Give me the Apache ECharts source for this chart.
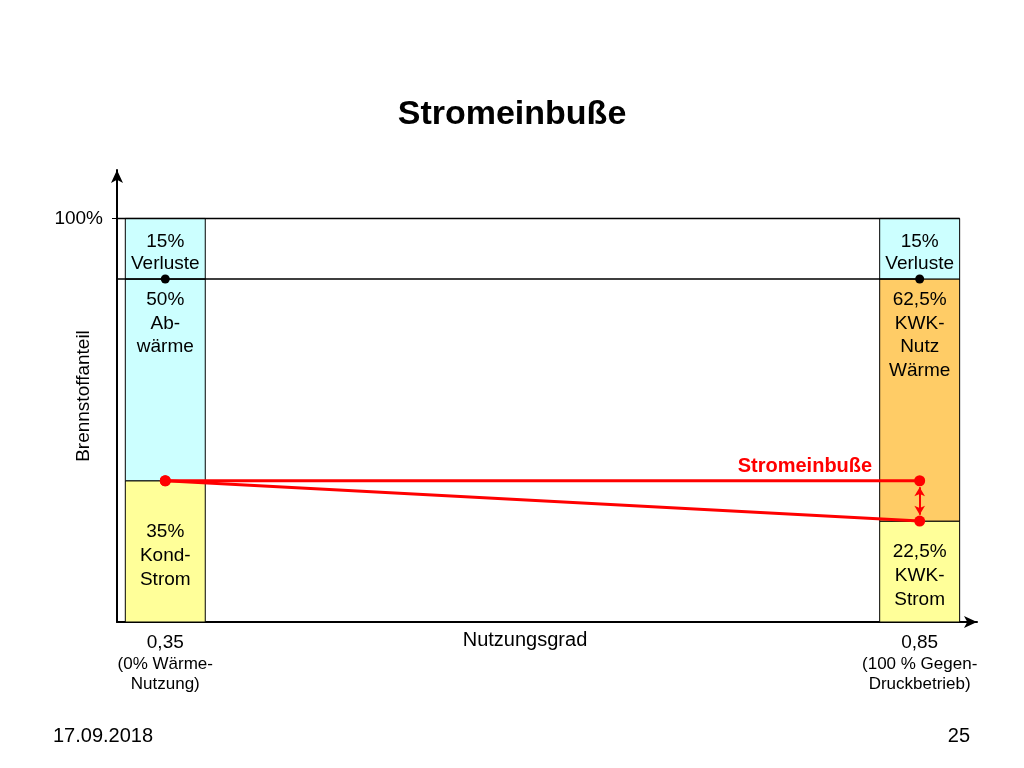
<!DOCTYPE html>
<html>
<head>
<meta charset="utf-8">
<script src="https://cdn.jsdelivr.net/npm/echarts@6/dist/echarts.min.js"></script>
<style>
html, body { margin: 0; padding: 0; background: #fff; }
#chart { width: 1024px; height: 768px; }
</style>
</head>
<body>
<div id="chart"></div>
<script>
// Nutzungsgrad der beiden Säulen
var barX = [0.35, 0.35, 0.35, 0.85, 0.85, 0.85];
// Brennstoffanteil je Abschnitt (von / bis, in %)
var segLow = [0, 35, 85, 0, 25, 85];
var segHigh = [35, 85, 100, 25, 85, 100];
var segText = ['35%\nKond-\nStrom', '50%\nAb-\nwärme', '15%\nVerluste',
               '22,5%\nKWK-\nStrom', '62,5%\nKWK-\nNutz\nWärme', '15%\nVerluste'];

// Stromanteil: Kondensation -> Gegendruck
var stromKond = [[0.35, 35], [0.85, 35]];
var stromKwk = [[0.35, 35], [0.85, 25]];
// Grenze Verluste
var verlustLinie = 85;

var xTicks = [0.35, 0.85];
var xTickText = ['0,35\n{s|(0% Wärme-}\n{s|Nutzung)}', '0,85\n{s|(100 % Gegen-}\n{s|Druckbetrieb)}'];

var xMin = 0.318, xMax = 0.888;
var barHalf = 0.0265;
var segFill = ['#ffff99', '#ccffff', '#ccffff', '#ffff99', '#ffcc66', '#ccffff'];
var segPos = ['inside', 'insideTop', 'inside', 'inside', 'insideTop', 'inside'];
var segLine = [24, 23.5, 22, 24, 23.5, 22];
var font = 'Liberation Sans, Arial, sans-serif';

var chart = echarts.init(document.getElementById('chart'));

var option = {
    animation: false,
    title: {
        text: 'Stromeinbuße',
        left: 'center',
        top: 93,
        textStyle: { fontFamily: font, fontSize: 34, fontWeight: 'bold', color: '#000' }
    },
    grid: { left: 117, right: 47, top: 170, bottom: 146 },
    xAxis: {
        type: 'value',
        min: xMin,
        max: xMax,
        name: 'Nutzungsgrad',
        nameLocation: 'middle',
        nameGap: 8,
        nameMoveOverlap: false,
        nameTextStyle: { fontFamily: font, fontSize: 20, color: '#000', verticalAlign: 'top', padding: [0, 44, 0, 0] },
        axisLine: { lineStyle: { color: '#000', width: 2 }, symbol: ['none', 'arrow'], symbolSize: [9, 13] },
        axisTick: { show: false },
        splitLine: { show: false },
        axisLabel: {
            customValues: xTicks,
            margin: 9,
            fontFamily: font,
            fontSize: 19,
            lineHeight: 23,
            color: '#000',
            formatter: function (v) {
                return xTickText[xTicks.indexOf(v)] || '';
            },
            rich: { s: { fontFamily: font, fontSize: 17, lineHeight: 20, color: '#000' } }
        }
    },
    yAxis: {
        type: 'value',
        min: 0,
        max: 112,
        name: 'Brennstoffanteil',
        nameLocation: 'middle',
        nameGap: 24,
        nameMoveOverlap: false,
        nameTextStyle: { fontFamily: font, fontSize: 19, color: '#000' },
        axisLine: { lineStyle: { color: '#000', width: 2 }, symbol: ['none', 'arrow'], symbolSize: [9, 13] },
        axisTick: { customValues: [100], length: 5, lineStyle: { color: '#000' } },
        splitLine: { show: false },
        axisLabel: {
            customValues: [100],
            margin: 14,
            fontFamily: font,
            fontSize: 19,
            color: '#000',
            formatter: function (v) { return v + '%'; }
        }
    },
    series: [
        {
            type: 'custom',
            data: barX.map(function (x, i) { return [x, segLow[i], segHigh[i]]; }),
            renderItem: function (params, api) {
                var i = params.dataIndex;
                var p0 = api.coord([api.value(0) - barHalf, api.value(2)]);
                var p1 = api.coord([api.value(0) + barHalf, api.value(1)]);
                return {
                    type: 'rect',
                    shape: { x: p0[0], y: p0[1], width: p1[0] - p0[0], height: p1[1] - p0[1] },
                    style: { fill: segFill[i], stroke: '#000', lineWidth: 1 },
                    textContent: {
                        style: {
                            text: segText[i],
                            font: '19px ' + font,
                            lineHeight: segLine[i],
                            fill: '#000',
                            align: 'center'
                        }
                    },
                    textConfig: { position: segPos[i], distance: 6, offset: [0, 4] }
                };
            },
            z: 1
        },
        {
            // obere Begrenzung 100 %
            type: 'line',
            data: [[xMin, 100], [0.85 + barHalf, 100]],
            symbol: 'none',
            lineStyle: { color: '#000', width: 1.5 },
            z: 2
        },
        {
            // Grenze Verluste mit Punkten
            type: 'line',
            data: [
                { value: [xMin, verlustLinie], symbol: 'none' },
                [0.35, verlustLinie],
                [0.85, verlustLinie]
            ],
            symbol: 'circle',
            symbolSize: 9,
            itemStyle: { color: '#000' },
            lineStyle: { color: '#000', width: 1.5 },
            z: 3
        },
        {
            type: 'line',
            data: stromKond,
            symbol: 'circle',
            symbolSize: 11,
            itemStyle: { color: '#ff0000' },
            lineStyle: { color: '#ff0000', width: 3 },
            label: {
                show: true,
                formatter: function (p) { return p.dataIndex === 1 ? 'Stromeinbuße' : ''; },
                position: 'left',
                distance: 42,
                offset: [0, -14],
                fontFamily: font,
                fontSize: 20,
                fontWeight: 'bold',
                color: '#ff0000'
            },
            markLine: {
                silent: true,
                symbol: ['arrow', 'arrow'],
                symbolSize: [8, 9],
                label: { show: false },
                lineStyle: { color: '#ff0000', width: 2, type: 'solid' },
                data: [[{ coord: [0.85, 33.4] }, { coord: [0.85, 26.6] }]]
            },
            z: 5
        },
        {
            type: 'line',
            data: stromKwk,
            symbol: 'circle',
            symbolSize: 11,
            itemStyle: { color: '#ff0000' },
            lineStyle: { color: '#ff0000', width: 3 },
            z: 5
        }
    ],
    graphic: [
        { type: 'text', left: 53, top: 726, style: { text: '17.09.2018', font: '20px ' + font, fill: '#000' } },
        { type: 'text', right: 54, top: 726, style: { text: '25', font: '20px ' + font, fill: '#000' } }
    ]
};

chart.setOption(option);
</script>
</body>
</html>
